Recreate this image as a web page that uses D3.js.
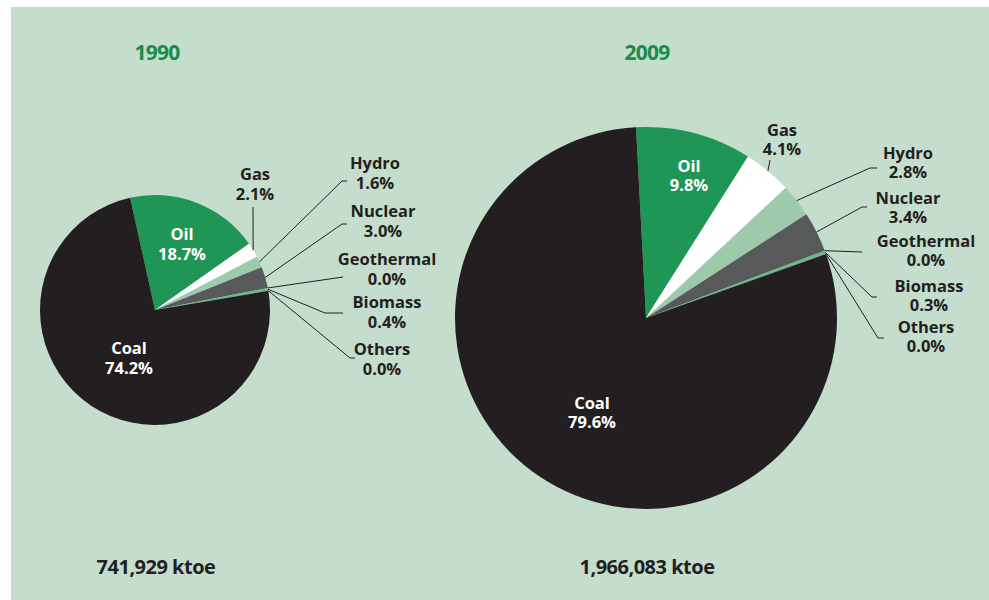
<!DOCTYPE html>
<html>
<head>
<meta charset="utf-8">
<script src="https://cdn.jsdelivr.net/npm/d3@7"></script>
<style>
  html, body { margin: 0; padding: 0; background: #ffffff; }
  svg { display: block; }
</style>
</head>
<body>
<svg id="chart" width="989" height="600"></svg>
<script>
// ---- data ----
const categories = ["Oil", "Gas", "Hydro", "Nuclear", "Geothermal", "Biomass", "Others", "Coal"];
const values1990 = [18.7, 2.1, 1.6, 3.0, 0.0, 0.4, 0.0, 74.2];
const values2009 = [9.8, 4.1, 2.8, 3.4, 0.0, 0.3, 0.0, 79.6];
const years = ["1990", "2009"];
const totals = ["741,929 ktoe", "1,966,083 ktoe"];

// ---- style ----
const colors = {
  Oil: "#1f9656", Gas: "#ffffff", Hydro: "#9dcaab", Nuclear: "#58595b",
  Geothermal: "#6cb889", Biomass: "#6cb889", Others: "#6cb889", Coal: "#231f20"
};
const bg = "#c4ddcc";
const titleColor = "#1a8c4b";
const labelFont = "'Open Sans', 'DejaVu Sans', sans-serif";
const condFont = "'Open Sans', 'DejaVu Sans', sans-serif";
const labelSize = 16.5;

// ---- layout ----
const deg = Math.PI / 180;
const pies = [
  {
    values: values1990, cx: 155, cy: 310, r: 115, start: -12.5,
    title: [157, 60], total: [156, 574], lh: 19.5,
    inside: { Oil: [182, 240], Coal: [129, 354] },
    outside: {
      Gas: { text: [255, 180], pts: [[253, 207]] },
      Hydro: { text: [375, 169], pts: [[342, 181], [347, 181]] },
      Nuclear: { text: [383, 217], pts: [[342, 224], [347, 224]] },
      Geothermal: { text: [387, 265], pts: [[343, 277]] },
      Biomass: { text: [387, 308], pts: [[325, 313], [343, 313]] },
      Others: { text: [382, 355], pts: [[350, 358], [355, 358]] }
    }
  },
  {
    values: values2009, cx: 646, cy: 318, r: 191, start: -3,
    title: [647, 60], total: [647, 574], lh: 18.5,
    inside: { Oil: [689, 172], Coal: [592, 409] },
    outside: {
      Gas: { text: [782, 136], pts: [[770, 160]] },
      Hydro: { text: [908, 159], pts: [[870, 168], [877, 168]] },
      Nuclear: { text: [908, 204], pts: [[862, 207], [867, 207]] },
      Geothermal: { text: [926, 247], pts: [[862, 252]] },
      Biomass: { text: [929, 292], pts: [[872, 297], [877, 297]] },
      Others: { text: [926, 333], pts: [[878, 338], [884, 338]] }
    }
  }
];

const svg = d3.select("#chart");
svg.append("rect").attr("x", 11).attr("y", 7).attr("width", 978).attr("height", 593).attr("fill", bg);

const fmt = v => d3.format(".1f")(v) + "%";

pies.forEach((p, pi) => {
  const pie = d3.pie().sort(null).value(d => d.v)
    .startAngle(p.start * deg).endAngle((p.start + 360) * deg);
  const data = categories.map((c, i) => ({ c, v: p.values[i] }));
  const arcs = pie(data);
  const arc = d3.arc().innerRadius(0).outerRadius(p.r);
  const g = svg.append("g").attr("transform", `translate(${p.cx},${p.cy})`);

  g.selectAll("path").data(arcs.filter(a => a.data.v > 0)).join("path")
    .attr("d", arc).attr("fill", d => colors[d.data.c]);

  // title & total
  svg.append("text").attr("x", p.title[0]).attr("y", p.title[1])
    .attr("text-anchor", "middle").attr("font-family", condFont).attr("font-weight", "bold")
    .attr("font-size", 21).attr("letter-spacing", -0.8).attr("fill", titleColor).text(years[pi]);
  svg.append("text").attr("x", p.total[0]).attr("y", p.total[1])
    .attr("text-anchor", "middle").attr("font-family", condFont).attr("font-weight", "bold")
    .attr("font-size", 20).attr("letter-spacing", -0.5).attr("fill", "#231f20").text(totals[pi]);

  arcs.forEach(a => {
    const name = a.data.c;
    const lines = [name, fmt(a.data.v)];
    if (p.inside[name]) {
      const [x, y] = p.inside[name];
      const t = svg.append("text").attr("text-anchor", "middle").attr("font-family", labelFont)
        .attr("font-weight", "bold").attr("font-size", labelSize).attr("fill", "#ffffff");
      lines.forEach((l, k) => t.append("tspan").attr("x", x).attr("y", y + k * p.lh).text(l));
    } else if (p.outside[name]) {
      const o = p.outside[name];
      const mid = (a.startAngle + a.endAngle) / 2;
      const sx = p.cx + p.r * Math.sin(mid), sy = p.cy - p.r * Math.cos(mid);
      const line = d3.line();
      svg.append("path").attr("d", line([[sx, sy], ...o.pts]))
        .attr("fill", "none").attr("stroke", "#231f20").attr("stroke-width", 1);
      const t = svg.append("text").attr("text-anchor", "middle").attr("font-family", labelFont)
        .attr("font-weight", "bold").attr("font-size", labelSize).attr("fill", "#231f20");
      lines.forEach((l, k) => t.append("tspan").attr("x", o.text[0]).attr("y", o.text[1] + k * p.lh).text(l));
    }
  });
});
</script>
</body>
</html>
